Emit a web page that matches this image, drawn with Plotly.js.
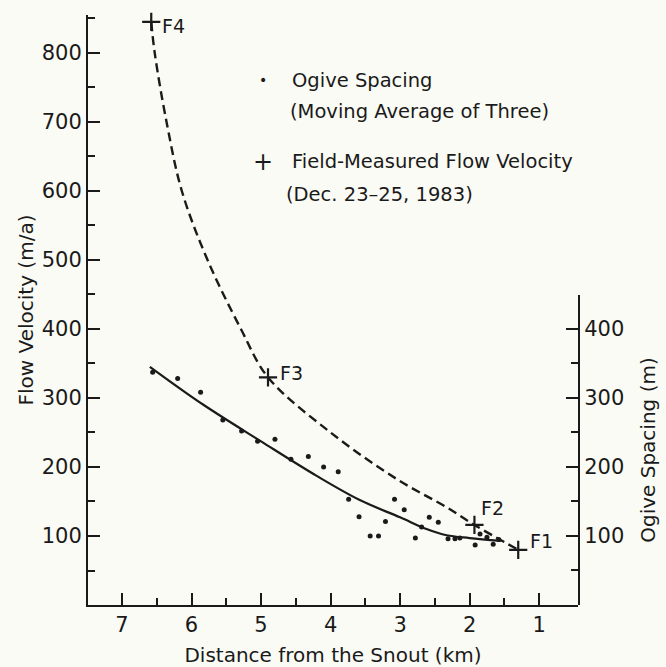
<!DOCTYPE html>
<html>
<head>
<meta charset="utf-8">
<script src="https://cdn.plot.ly/plotly-3.0.1.min.js"></script>
<style>
html,body{margin:0;padding:0;background:#fbfbf5;}
#chart{width:666px;height:667px;}
</style>
</head>
<body>
<div id="chart"></div>
<script>
// Ogive spacing, moving average of three (distance km, spacing m)
const dotDist = [6.56, 6.20, 5.87, 5.55, 5.28, 5.05, 4.80, 4.57, 4.32, 4.10, 3.89, 3.74, 3.59, 3.43, 3.31, 3.21, 3.08, 2.94, 2.78, 2.69, 2.58, 2.45, 2.31, 2.21, 2.14, 1.92, 1.85, 1.75, 1.66, 1.58];
const dotSpacing = [337, 328, 308, 268, 252, 237, 240, 211, 215, 200, 193, 153, 128, 100, 100, 121, 153, 138, 97, 113, 127, 120, 96, 96, 97, 87, 103, 98, 88, 95];

// Fitted ogive spacing curve (solid)
const fitDist = [6.60, 5.83, 5.00, 4.20, 3.58, 3.00, 2.62, 2.33, 2.00, 1.55];
const fitSpacing = [345, 290, 237, 187, 152, 127, 110, 101, 97, 93];

// Flow velocity curve (dashed)
const velDist = [6.58, 6.53, 6.36, 6.14, 5.77, 5.29, 4.90, 4.00, 3.04, 2.32, 1.93, 1.30];
const velFit = [845, 800, 700, 600, 500, 400, 330, 250, 182, 141, 116, 80];

// Field-measured flow velocity (Dec. 23-25, 1983)
const fieldLabels = ["F4", "F3", "F2", "F1"];
const fieldDist = [6.58, 4.90, 1.93, 1.30];
const fieldVel = [845, 330, 116, 80];

const xTicks = [7, 6, 5, 4, 3, 2, 1];
const xMinor = [6.5, 5.5, 4.5, 3.5, 2.5, 1.5];
const yTicks = [100, 200, 300, 400, 500, 600, 700, 800];
const y2Ticks = [100, 200, 300, 400];

const ink = '#1a1a1a';
const FONT = 'DejaVu Sans, sans-serif';
const clear = 'rgba(0,0,0,0)';

const traces = [
  {x: velDist, y: velFit, xaxis: 'x', yaxis: 'y', mode: 'lines', line: {color: ink, width: 2.4, dash: '9px,5px', shape: 'spline', smoothing: 1}, hoverinfo: 'skip', showlegend: false},
  {x: fitDist, y: fitSpacing, xaxis: 'x', yaxis: 'y2', mode: 'lines', line: {color: ink, width: 2.2, shape: 'spline', smoothing: 1}, hoverinfo: 'skip', showlegend: false},
  {x: dotDist, y: dotSpacing, xaxis: 'x', yaxis: 'y2', mode: 'markers', marker: {color: ink, size: 5}, name: 'Ogive Spacing', showlegend: false},
  {x: fieldDist, y: fieldVel, xaxis: 'x', yaxis: 'y', mode: 'markers', marker: {symbol: 'cross-thin', size: 13, line: {color: ink, width: 2.2}}, name: 'Field-Measured Flow Velocity', showlegend: false, cliponaxis: false}
];

const labelShift = {F4: [9, -4, 'left'], F3: [10, 4, 'left'], F2: [18, 17, 'center'], F1: [10, 9, 'left']};
const annotations = fieldLabels.map((t, i) => ({
  x: fieldDist[i], y: fieldVel[i], xref: 'x', yref: 'y', text: t, showarrow: false,
  xanchor: labelShift[t][2], yanchor: 'middle', xshift: labelShift[t][0], yshift: labelShift[t][1],
  font: {family: FONT, size: 19, color: ink}
}));

function px(xp) { return (xp - 88) / 490; }
function py(yp) { return (605 - yp) / 590; }
const legendLines = [
  ['•', 263, 80, 'center'],
  ['Ogive Spacing', 290, 80, 'left'],
  ['(Moving Average of Three)', 288, 112, 'left'],
  ['+', 263, 162, 'center'],
  ['Field-Measured Flow Velocity', 290, 162, 'left'],
  ['(Dec. 23–25, 1983)', 284, 194, 'left']
];
legendLines.forEach(l => annotations.push({
  xref: 'paper', yref: 'paper', x: px(l[1]), y: py(l[2]), text: l[0], showarrow: false,
  xanchor: l[3], yanchor: 'middle', font: {family: FONT, size: l[0] === '•' ? 14 : (l[0] === '+' ? 24 : 19.5), color: ink}
}));

const axisCommon = {
  showline: true, linecolor: ink, linewidth: 2, showgrid: false, zeroline: false,
  ticks: 'inside', ticklen: 12, tickwidth: 2, tickcolor: ink,
  tickfont: {family: FONT, size: 21, color: ink}
};

const layout = {
  width: 666, height: 667,
  margin: {l: 88, r: 88, t: 15, b: 62},
  paper_bgcolor: '#fbfbf5', plot_bgcolor: clear,
  font: {family: FONT, color: ink},
  xaxis: Object.assign({}, axisCommon, {
    range: [7.49, 0.44], tickmode: 'array', tickvals: xTicks, ticktext: xTicks.map(String),
    minor: {tickmode: 'array', tickvals: xMinor, ticks: 'inside', ticklen: 7, tickwidth: 2, tickcolor: ink},
    title: {text: 'Distance from the Snout (km)', font: {family: FONT, size: 20, color: ink}, standoff: 14},
    anchor: 'y'
  }),
  yaxis: Object.assign({}, axisCommon, {
    range: [0, 855], tickmode: 'array', tickvals: yTicks, ticktext: yTicks.map(String),
    minor: {dtick: 50, tick0: 0, ticks: 'inside', ticklen: 7, tickwidth: 2, tickcolor: ink},
    title: {text: 'Flow Velocity (m/a)', font: {family: FONT, size: 20, color: ink}, standoff: 3},
    anchor: 'x'
  }),
  yaxis2: Object.assign({}, axisCommon, {
    domain: [0, 0.5254], range: [0, 449], side: 'right', anchor: 'x',
    tickmode: 'array', tickvals: y2Ticks, ticktext: y2Ticks.map(String),
    minor: {dtick: 50, tick0: 0, ticks: 'inside', ticklen: 7, tickwidth: 2, tickcolor: ink},
    title: {text: 'Ogive Spacing (m)', font: {family: FONT, size: 20, color: ink}, standoff: 18}
  }),
  annotations: annotations,
  showlegend: false
};

Plotly.newPlot('chart', traces, layout, {staticPlot: true, displayModeBar: false});
</script>
</body>
</html>
